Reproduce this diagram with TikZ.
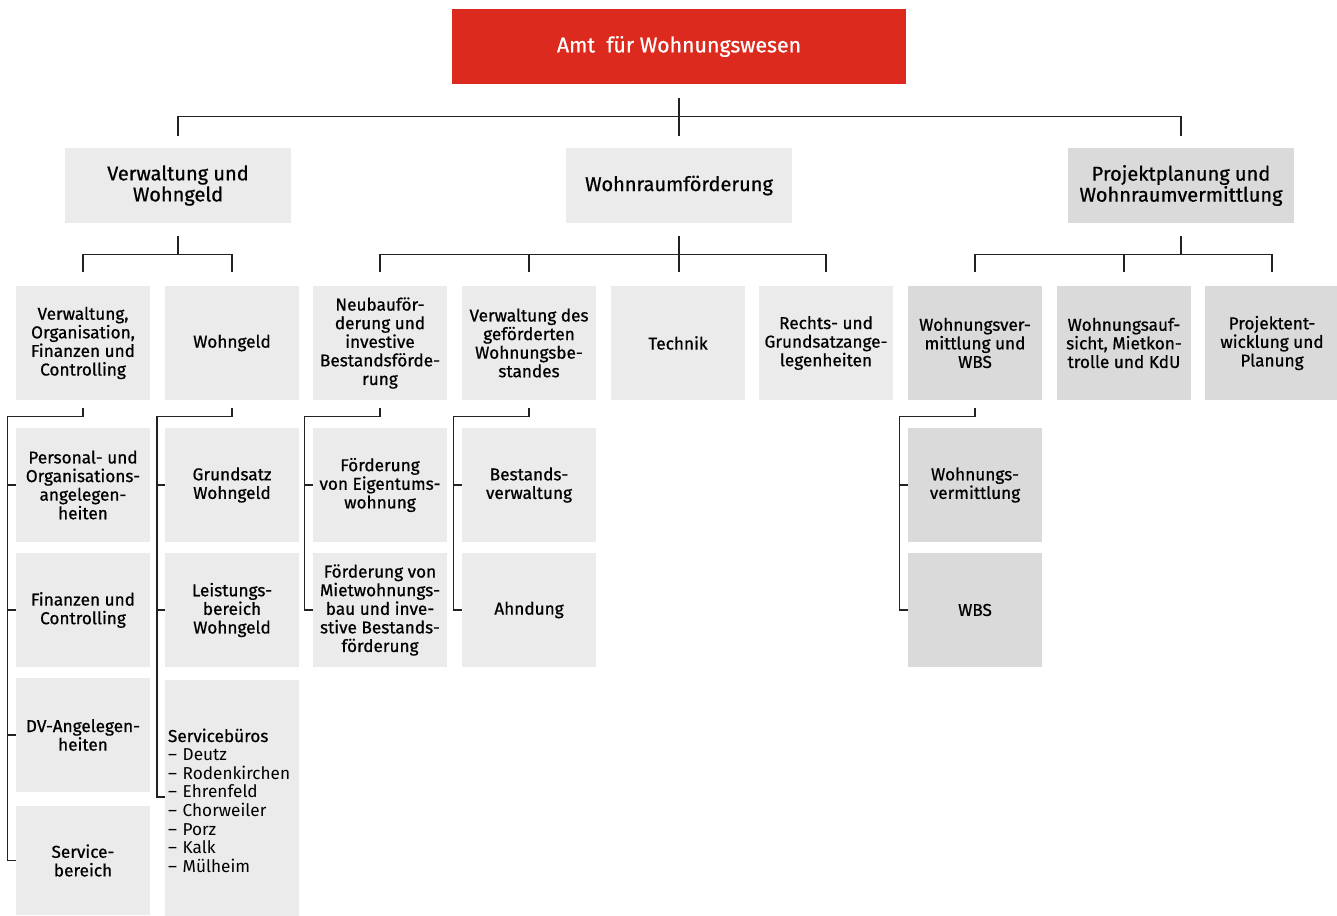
\documentclass[tikz,border=0pt]{standalone}
\usepackage{fontspec}
\setmainfont{Fira Sans}
\newfontfamily\medfont{Fira Sans}[FakeBold=0.7]
\definecolor{amtred}{HTML}{DC2A1E}
\definecolor{lightbox}{HTML}{EBEBEB}
\definecolor{darkbox}{HTML}{DADADA}
\definecolor{lineclr}{HTML}{222222}
\newcommand\fthree{\medfont\fontsize{17.2}{18.6}\selectfont}
\newcommand\flist{\fontsize{17.2}{18.6}\selectfont}
\newcommand\ftwo{\medfont\fontsize{20}{21}\selectfont}
\newcommand\ftitle{\medfont\fontsize{21.3}{23}\selectfont}
\begin{document}
\begin{tikzpicture}[x=1pt,y=-1pt,
  box/.style={fill=lightbox, align=center, inner sep=0pt, font=\fthree, minimum width=134pt, minimum height=114pt},
  dbox/.style={box, fill=darkbox},
  head/.style={fill=lightbox, align=center, inner sep=0pt, font=\ftwo, minimum width=226pt, minimum height=75pt},
  conn/.style={draw=lineclr, line width=1.3pt}]
\useasboundingbox (0,0) rectangle (1337,915);

% top
\node[fill=amtred, text=white, font=\ftitle, minimum width=454pt, minimum height=75pt, inner sep=0pt] (amt) at (679,46.5) {\raisebox{-2.5pt}{Amt\ \ für Wohnungswesen}};

% level 2
\node[head] (vw) at (178,185.5) {Verwaltung und\\Wohngeld};
\node[head] (wf) at (679,185.5) {Wohnraumförderung};
\node[head, fill=darkbox] (pp) at (1181,185.5) {Projektplanung und\\Wohnraumvermittlung};

% level 3
\node[box] (vo) at (83,343) {Verwaltung,\\Organisation,\\Finanzen und\\Controlling};
\node[box] (wg) at (232,343) {Wohngeld};
\node[box] (nb) at (380,343) {Neubauför-\\derung und\\investive\\Bestandsförde-\\rung};
\node[box] (vg) at (529,343) {Verwaltung des\\geförderten\\Wohnungsbe-\\standes};
\node[box] (te) at (678,343) {Technik};
\node[box] (rg) at (826,343) {Rechts- und\\Grundsatzange-\\legenheiten};
\node[dbox] (wv) at (975,343) {Wohnungsver-\\mittlung und\\WBS};
\node[dbox] (wa) at (1124,343) {Wohnungsauf-\\sicht, Mietkon-\\trolle und KdU};
\node[dbox] (pe) at (1272,343) {Projektent-\\wicklung und\\Planung};

% level 4, column 1
\node[box] (po) at (83,485) {Personal- und\\Organisations-\\angelegen-\\heiten};
\node[box] (fc) at (83,610) {Finanzen und\\Controlling};
\node[box] (dv) at (83,735) {DV-Angelegen-\\heiten};
\node[box, minimum height=109pt] (sv) at (83,860.5) {Service-\\bereich};
% column 2
\node[box] (gw) at (232,485) {Grundsatz\\Wohngeld};
\node[box] (lw) at (232,610) {Leistungs-\\bereich\\Wohngeld};
\node[box, minimum height=242pt, text width=128pt, align=left, inner xsep=3pt, font=\flist] (sb) at (232,800.5)
  {{\fthree Servicebüros}\\– Deutz\\– Rodenkirchen\\– Ehrenfeld\\– Chorweiler\\– Porz\\– Kalk\\– Mülheim};
\coordinate (sbtick) at (165,797);
% column 3
\node[box] (fe) at (380,485) {Förderung\\von Eigentums-\\wohnung};
\node[box] (fm) at (380,610) {Förderung von\\Mietwohnungs-\\bau und inve-\\stive Bestands-\\förderung};
% column 4
\node[box] (bv) at (529,485) {Bestands-\\verwaltung};
\node[box] (ah) at (529,610) {Ahndung};
% column 7
\node[dbox] (wm) at (975,485) {Wohnungs-\\vermittlung};
\node[dbox] (wb) at (975,610) {WBS};

% connectors level 1 -> 2
\draw[conn] ([yshift=-14pt]amt.south) -- ([yshift=12pt]wf.north);
\draw[conn] ([yshift=12pt]vw.north) -- ([yshift=31pt]vw.north) -- ([yshift=31pt]pp.north) -- ([yshift=12pt]pp.north);

% level 2 -> 3
\draw[conn] ([yshift=-13pt]vw.south) -- ([yshift=-32pt]vw.south);
\draw[conn] ([yshift=14pt]vo.north) -- ([yshift=31pt]vo.north) -- ([yshift=31pt]wg.north) -- ([yshift=14pt]wg.north);
\draw[conn] ([yshift=-13pt]wf.south) -- ([yshift=-49pt]wf.south);
\draw[conn] ([yshift=14pt]nb.north) -- ([yshift=31pt]nb.north) -- ([yshift=31pt]rg.north) -- ([yshift=14pt]rg.north);
\draw[conn] ([yshift=31pt]vg.north) -- ([yshift=14pt]vg.north);
\draw[conn] ([yshift=-13pt]pp.south) -- ([yshift=-32pt]pp.south);
\draw[conn] ([yshift=14pt]wv.north) -- ([yshift=31pt]wv.north) -- ([yshift=31pt]pe.north) -- ([yshift=14pt]pe.north);
\draw[conn] ([yshift=31pt]wa.north) -- ([yshift=14pt]wa.north);

% level 3 -> 4
\draw[conn] ([yshift=-8pt]vo.south) -- ([yshift=-16pt]vo.south) -| ([xshift=-8.5pt]sv.west) -- (sv.west);
\draw[conn] ([xshift=-8.5pt]po.west) -- (po.west);
\draw[conn] ([xshift=-8.5pt]fc.west) -- (fc.west);
\draw[conn] ([xshift=-8.5pt]dv.west) -- (dv.west);

\draw[conn] ([yshift=-8pt]wg.south) -- ([yshift=-16pt]wg.south) -| ([xshift=-8pt]sbtick) -- (sbtick);
\draw[conn] ([xshift=-8pt]gw.west) -- (gw.west);
\draw[conn] ([xshift=-8pt]lw.west) -- (lw.west);

\draw[conn] ([yshift=-8pt]nb.south) -- ([yshift=-16pt]nb.south) -| ([xshift=-8pt]fm.west) -- (fm.west);
\draw[conn] ([xshift=-8pt]fe.west) -- (fe.west);

\draw[conn] ([yshift=-8pt]vg.south) -- ([yshift=-16pt]vg.south) -| ([xshift=-8pt]ah.west) -- (ah.west);
\draw[conn] ([xshift=-8pt]bv.west) -- (bv.west);

\draw[conn] ([yshift=-8pt]wv.south) -- ([yshift=-16pt]wv.south) -| ([xshift=-8pt]wb.west) -- (wb.west);
\draw[conn] ([xshift=-8pt]wm.west) -- (wm.west);
\end{tikzpicture}
\end{document}
